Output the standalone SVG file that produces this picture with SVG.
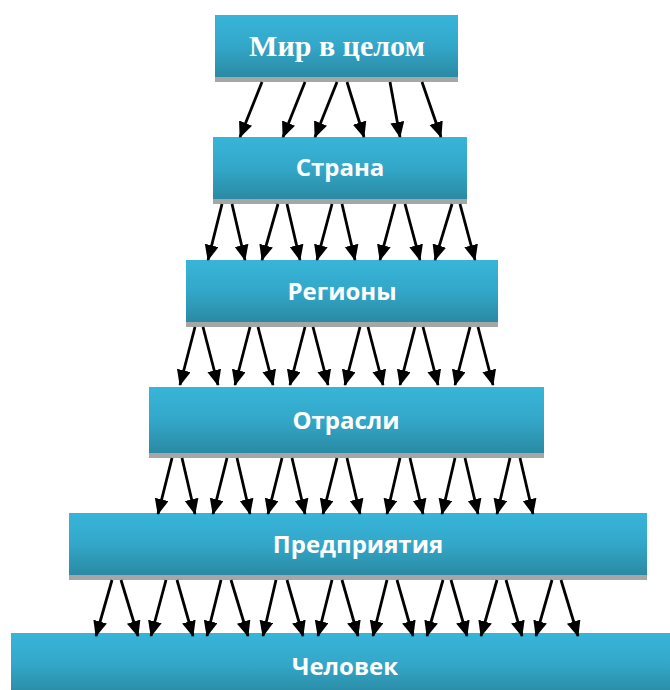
<svg xmlns="http://www.w3.org/2000/svg" width="670" height="690" viewBox="0 0 670 690">
<style>
.box{fill:url(#g)}
.sh{fill:#a6a6a6}
.t{font-family:"Open Sans","DejaVu Sans",sans-serif;font-weight:bold;font-size:24px;fill:#ffffff;text-anchor:middle}
.ts{font-family:"Liberation Serif","Times New Roman",serif;font-weight:bold;font-size:30px;fill:#ffffff;text-anchor:middle}
#connectors line{stroke:#000;stroke-width:2.8;marker-end:url(#ah)}
</style>
<defs>
<linearGradient id="g" x1="0" y1="0" x2="0" y2="1">
<stop offset="0" stop-color="#37b5d9"/>
<stop offset="0.5" stop-color="#33a7c9"/>
<stop offset="1" stop-color="#2a8aa3"/>
</linearGradient>
<marker id="ah" markerUnits="userSpaceOnUse" markerWidth="18" markerHeight="16" refX="15" refY="7" orient="auto">
<path d="M0,0 L16,7 L0,14 z" fill="#000"/>
</marker>
</defs>
<rect width="670" height="690" fill="#fff"/>
<g id="n1">
<rect class="sh" x="215" y="20" width="243" height="62"/>
<rect class="box" x="215" y="15" width="243" height="62"/>
<text class="ts" x="337" y="56">Мир в целом</text>
</g>
<g id="n2">
<rect class="sh" x="213" y="142" width="254" height="62"/>
<rect class="box" x="213" y="137" width="254" height="62"/>
<text class="t" x="340" y="176">Страна</text>
</g>
<g id="n3">
<rect class="sh" x="186" y="265" width="312" height="62"/>
<rect class="box" x="186" y="260" width="312" height="62"/>
<text class="t" x="342" y="300">Регионы</text>
</g>
<g id="n4">
<rect class="sh" x="149" y="392" width="395" height="66"/>
<rect class="box" x="149" y="387" width="395" height="66"/>
<text class="t" x="346" y="429">Отрасли</text>
</g>
<g id="n5">
<rect class="sh" x="69" y="518" width="578" height="62"/>
<rect class="box" x="69" y="513" width="578" height="62"/>
<text class="t" x="358" y="553">Предприятия</text>
</g>
<g id="n6">
<rect class="box" x="11" y="633" width="665" height="62"/>
<text class="t" x="345" y="675">Человек</text>
</g>
<g id="connectors">
<line x1="262" y1="82" x2="240" y2="137"/>
<line x1="305" y1="82" x2="283" y2="137"/>
<line x1="337" y1="82" x2="315" y2="137"/>
<line x1="347" y1="82" x2="364" y2="137"/>
<line x1="390" y1="82" x2="400" y2="137"/>
<line x1="422" y1="82" x2="441" y2="137"/>

<line x1="222" y1="204" x2="208" y2="260"/>
<line x1="232" y1="204" x2="245" y2="260"/>
<line x1="278" y1="204" x2="262" y2="260"/>
<line x1="287" y1="204" x2="300" y2="260"/>
<line x1="332" y1="204" x2="317" y2="260"/>
<line x1="342" y1="204" x2="355" y2="260"/>
<line x1="395" y1="204" x2="380" y2="260"/>
<line x1="405" y1="204" x2="420" y2="260"/>
<line x1="452" y1="204" x2="435" y2="260"/>
<line x1="460" y1="204" x2="475" y2="260"/>

<line x1="195" y1="327" x2="180" y2="385"/>
<line x1="203" y1="327" x2="218" y2="385"/>
<line x1="250" y1="327" x2="235" y2="385"/>
<line x1="258" y1="327" x2="273" y2="385"/>
<line x1="305" y1="327" x2="290" y2="385"/>
<line x1="313" y1="327" x2="328" y2="385"/>
<line x1="360" y1="327" x2="345" y2="385"/>
<line x1="368" y1="327" x2="383" y2="385"/>
<line x1="415" y1="327" x2="400" y2="385"/>
<line x1="423" y1="327" x2="438" y2="385"/>
<line x1="470" y1="327" x2="455" y2="385"/>
<line x1="478" y1="327" x2="493" y2="385"/>

<line x1="172" y1="458" x2="158" y2="514"/>
<line x1="182" y1="458" x2="195" y2="514"/>
<line x1="227" y1="458" x2="213" y2="514"/>
<line x1="237" y1="458" x2="250" y2="514"/>
<line x1="282" y1="458" x2="268" y2="514"/>
<line x1="292" y1="458" x2="305" y2="514"/>
<line x1="337" y1="458" x2="323" y2="514"/>
<line x1="347" y1="458" x2="360" y2="514"/>
<line x1="400" y1="458" x2="387" y2="514"/>
<line x1="410" y1="458" x2="423" y2="514"/>
<line x1="455" y1="458" x2="442" y2="514"/>
<line x1="465" y1="458" x2="478" y2="514"/>
<line x1="510" y1="458" x2="497" y2="514"/>
<line x1="520" y1="458" x2="533" y2="514"/>

<line x1="112" y1="580" x2="96" y2="636"/>
<line x1="121" y1="580" x2="138" y2="636"/>
<line x1="166" y1="580" x2="151" y2="636"/>
<line x1="177" y1="580" x2="193" y2="636"/>
<line x1="221" y1="580" x2="207" y2="636"/>
<line x1="231" y1="580" x2="248" y2="636"/>
<line x1="276" y1="580" x2="263" y2="636"/>
<line x1="287" y1="580" x2="303" y2="636"/>
<line x1="332" y1="580" x2="318" y2="636"/>
<line x1="342" y1="580" x2="358" y2="636"/>
<line x1="387" y1="580" x2="373" y2="636"/>
<line x1="397" y1="580" x2="413" y2="636"/>
<line x1="443" y1="580" x2="427" y2="636"/>
<line x1="451" y1="580" x2="467" y2="636"/>
<line x1="497" y1="580" x2="481" y2="636"/>
<line x1="506" y1="580" x2="522" y2="636"/>
<line x1="552" y1="580" x2="536" y2="636"/>
<line x1="561" y1="580" x2="578" y2="636"/>
</g>
</svg>
